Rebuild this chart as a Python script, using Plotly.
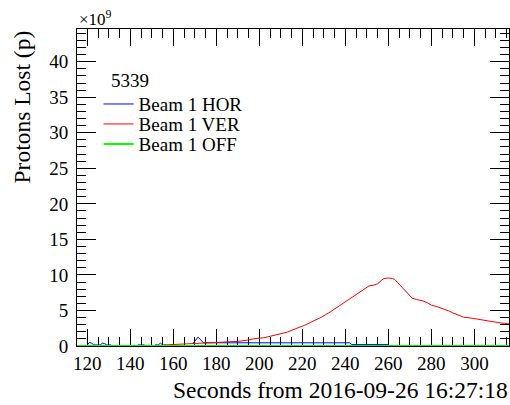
import plotly.graph_objects as go

# ---- data (values in units of 1e9 protons) ----
hor_t = [120, 121, 122, 123, 126, 127, 128, 129, 131, None,
         143.5, 146.5, None,
         151.5, 153, 154, 155, 156.5, None,
         169, 171.5, 174, 180, 190, 200, 210, 220, 230, 240, 242, 243, 250, 260]
hor_v = [0.15, 0.5, 0.4, 0.15, 0.15, 0.4, 0.35, 0.15, 0.15, None,
         0.15, 0.15, None,
         0.15, 0.15, 0.4, 0.15, 0.15, None,
         0.3, 1.25, 0.45, 0.45, 0.45, 0.5, 0.5, 0.5, 0.5, 0.45, 0.45, 0.2, 0.2, 0.2]

ver_t = [146, 150, None, 156, 160, 165, 170, 175, 180, 185, 190, 194, 198, 202, 205,
         209, 213, 217, 221, 225, 229, 233, 237, 241, 245, 248, 251, 253, 255, 257,
         258, 260, 262, 263, 265, 267, 269, 271, 273, 276, 278, 280, 283, 285, 288,
         290, 293, 295, 298, 300, 303, 305, 308, 311, 314, 317]
ver_v = [0.1, 0.1, None, 0.15, 0.2, 0.25, 0.35, 0.4, 0.45, 0.5, 0.65, 0.8, 1.05, 1.15, 1.35,
         1.65, 1.95, 2.45, 2.9, 3.5, 4.07, 4.8, 5.6, 6.45, 7.2, 7.8, 8.45, 8.55, 8.75, 9.3,
         9.5, 9.56, 9.5, 9.35, 8.7, 7.9, 7.3, 6.75, 6.55, 6.35, 6.1, 5.75, 5.5, 5.3, 4.95,
         4.65, 4.25, 4.05, 3.95, 3.85, 3.6, 3.5, 3.38, 3.3, 3.18, 3.1]

off_t = [114, 318]
off_v = [0, 0]

fill_label = "5339"
series_names = ["Beam 1 HOR", "Beam 1 VER", "Beam 1 OFF"]
x_title = "Seconds from 2016-09-26 16:27:18"
y_title = "Protons Lost (p)"

FONT = "Liberation Serif"

fig = go.Figure()
fig.add_trace(go.Scatter(x=hor_t, y=hor_v, mode="lines", name=series_names[0],
                         line=dict(color="#0000ff", width=1), legend="legend"))
fig.add_trace(go.Scatter(x=ver_t, y=ver_v, mode="lines", name=series_names[1],
                         line=dict(color="#ff0000", width=1), legend="legend2"))
fig.add_trace(go.Scatter(x=off_t, y=off_v, mode="lines", name=series_names[2],
                         line=dict(color="#00ff00", width=2), legend="legend3"))

def leg(y):
    return dict(x=0.05, y=y, xanchor="left", yanchor="middle",
                bgcolor="rgba(0,0,0,0)", borderwidth=0,
                font=dict(family=FONT, size=19, color="black"))

axis_common = dict(showgrid=False, zeroline=False, showline=True, linecolor="black",
                   linewidth=1, mirror="ticks", ticks="inside", tickcolor="black",
                   tickwidth=1, layer="below traces",
                   tickfont=dict(family=FONT, size=19, color="black"))

fig.update_layout(
    width=510, height=405,
    margin=dict(l=77, r=1, t=29, b=59),
    paper_bgcolor="white", plot_bgcolor="white",
    showlegend=True,
    legend=leg(0.763), legend2=leg(0.700), legend3=leg(0.637),
    xaxis=dict(range=[115.2, 316.1], dtick=20, tick0=0, ticklen=17,
               minor=dict(dtick=5, tick0=0, ticklen=9, ticks="inside",
                          tickcolor="black", tickwidth=1, showgrid=False),
               **axis_common),
    yaxis=dict(range=[0, 44.6], dtick=5, tick0=0, ticklen=19, ticklabelstandoff=4,
               minor=dict(dtick=1, tick0=0, ticklen=9, ticks="inside",
                          tickcolor="black", tickwidth=1, showgrid=False),
               **axis_common),
    annotations=[
        dict(text=fill_label, xref="paper", yref="paper", x=0.075, y=0.836,
             xanchor="left", yanchor="middle", showarrow=False,
             font=dict(family=FONT, size=19, color="black")),
        dict(text="×10<sup>9</sup>", xref="paper", yref="paper", x=0, y=1, yshift=-2,
             xanchor="left", yanchor="bottom", showarrow=False,
             font=dict(family=FONT, size=17, color="black")),
        dict(text=y_title, xref="paper", yref="paper", x=0, y=1, xshift=-56,
             xanchor="center", yanchor="top", textangle=-90, showarrow=False,
             font=dict(family=FONT, size=23.5, color="black")),
        dict(text=x_title, xref="paper", yref="paper", x=1, y=-0.14, xshift=1,
             xanchor="right", yanchor="middle", showarrow=False,
             font=dict(family=FONT, size=23.5, color="black")),
    ],
)

fig.write_html("out.html")
